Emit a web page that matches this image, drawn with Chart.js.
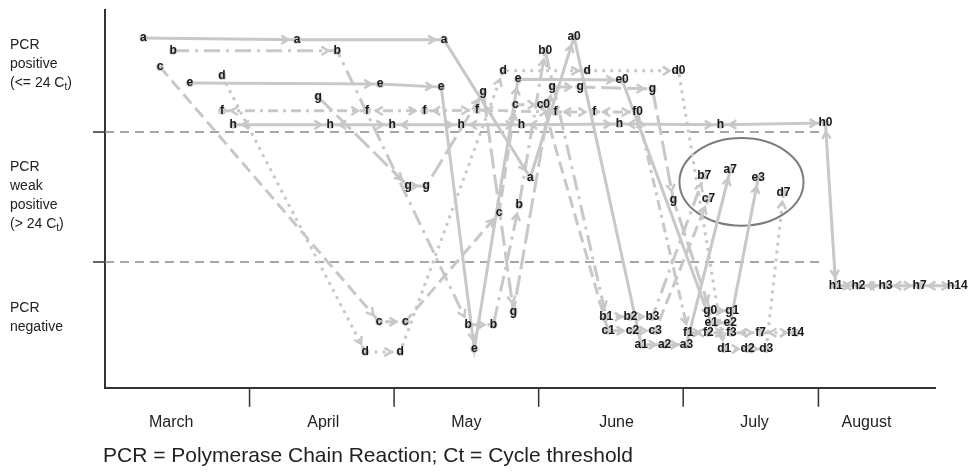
<!DOCTYPE html>
<html>
<head>
<meta charset="utf-8">
<script src="https://cdn.jsdelivr.net/npm/chart.js@4.4.0/dist/chart.umd.min.js"></script>
<style>
html, body { margin: 0; padding: 0; background: #fff; }
</style>
</head>
<body>
<canvas id="myChart" width="968" height="472"></canvas>
<script>
// x = days from 1 March, y = position inside the three PCR bands (0-100)
var mesi = ['March', 'April', 'May', 'June', 'July', 'August'];
var mesiPos = [14.2, 46.8, 77.5, 109.7, 139.3, 163.3];
var confiniMesi = [31, 62, 93, 124, 153];
var soglie = [33.3, 67.7];
var fineSoglie = 153.5;

var fasce = [
    ['PCR', 'positive', '(<= 24 Ct)'],
    ['PCR', 'weak', 'positive', '(> 24 Ct)'],
    ['PCR', 'negative']
];
var fasceCentro = [85.7, 50.8, 18.7];

// circled group
var cerchioX = 136.5, cerchioY = 54.5, cerchioRx = 13.3, cerchioRy = 11.6;

var aX = [8.2, 41.2, 72.7, 91.2, 100.6, 115.0, 120.0, 124.7, 134.1];
var aY = [92.6, 92.1, 92.1, 55.6, 92.9, 11.4, 11.4, 11.4, 57.7];
var aL = ['a', 'a', 'a', 'a', 'a0', 'a1', 'a2', 'a3', 'a7'];

var bX = [14.6, 49.8, 77.9, 83.3, 88.8, 94.4, 107.5, 112.7, 117.4, 128.5];
var bY = [89.2, 89.2, 16.7, 16.7, 48.4, 89.2, 18.8, 18.8, 18.8, 56.1];
var bL = ['b', 'b', 'b', 'b', 'b', 'b0', 'b1', 'b2', 'b3', 'b7'];

var cX = [11.8, 58.8, 64.4, 84.5, 88.0, 94.0, 107.9, 113.1, 118.0, 129.4];
var cY = [84.9, 17.5, 17.5, 46.3, 74.9, 74.9, 15.1, 15.1, 15.1, 50.0];
var cL = ['c', 'c', 'c', 'c', 'c', 'c0', 'c1', 'c2', 'c3', 'c7'];

var dX = [25.1, 55.8, 63.3, 85.4, 103.4, 123.0, 132.8, 137.8, 141.8, 145.5];
var dY = [82.5, 9.5, 9.5, 83.9, 83.9, 83.9, 10.3, 10.3, 10.3, 51.6];
var dL = ['d', 'd', 'd', 'd', 'd', 'd0', 'd1', 'd2', 'd3', 'd7'];

var eX = [18.2, 59.0, 72.1, 79.2, 88.6, 110.9, 130.0, 134.1, 140.1];
var eY = [80.7, 80.4, 79.6, 10.3, 81.7, 81.5, 17.2, 17.2, 55.6];
var eL = ['e', 'e', 'e', 'e', 'e', 'e0', 'e1', 'e2', 'e3'];

var fX = [25.1, 56.2, 68.5, 79.8, 96.6, 104.9, 114.2, 125.1, 129.4, 134.3, 140.6, 148.1];
var fY = [73.3, 73.3, 73.3, 73.5, 73.0, 73.0, 73.0, 14.6, 14.6, 14.6, 14.6, 14.6];
var fL = ['f', 'f', 'f', 'f', 'f', 'f', 'f0', 'f1', 'f2', 'f3', 'f7', 'f14'];

var gX = [45.7, 65.0, 68.9, 81.1, 87.6, 95.9, 101.9, 117.4, 121.9, 129.8, 134.5];
var gY = [77.0, 53.4, 53.4, 78.3, 20.1, 79.6, 79.6, 79.1, 49.7, 20.4, 20.4];
var gL = ['g', 'g', 'g', 'g', 'g', 'g', 'g', 'g', 'g', 'g0', 'g1'];

var hX = [27.5, 48.3, 61.6, 76.4, 89.3, 110.3, 132.0, 154.5, 156.7, 161.6, 167.4, 174.7, 182.8];
var hY = [69.6, 69.6, 69.6, 69.6, 69.6, 69.8, 69.6, 70.1, 27.0, 27.0, 27.0, 27.0, 27.0];
var hL = ['h', 'h', 'h', 'h', 'h', 'h', 'h', 'h0', 'h1', 'h2', 'h3', 'h7', 'h14'];

var grigio = '#c8c8c8';

function serie(xs, ys, nomi, dash, doppia) {
    var punti = [];
    for (var i = 0; i < xs.length; i++) {
        punti.push({ x: xs[i], y: ys[i] });
    }
    return {
        data: punti,
        nomi: nomi,
        doppia: doppia,
        showLine: true,
        borderColor: grigio,
        borderWidth: 3,
        borderDash: dash,
        pointRadius: 4,
        pointBackgroundColor: '#cdcdcd',
        pointBorderWidth: 0,
        clip: false
    };
}

function freccia(ctx, x, y, ang) {
    var l = 8;
    ctx.beginPath();
    ctx.moveTo(x - l * Math.cos(ang - 0.55), y - l * Math.sin(ang - 0.55));
    ctx.lineTo(x, y);
    ctx.lineTo(x - l * Math.cos(ang + 0.55), y - l * Math.sin(ang + 0.55));
    ctx.stroke();
}

function scriviCt(ctx, testo, x, y) {
    var pezzi = testo.split('Ct');
    if (pezzi.length < 2) {
        ctx.fillText(testo, x, y);
        return;
    }
    var prima = pezzi[0] + 'C';
    ctx.fillText(prima, x, y);
    var w = ctx.measureText(prima).width;
    var font = ctx.font;
    ctx.font = '10px "Liberation Sans", Arial';
    ctx.fillText('t', x + w, y + 4);
    var wt = ctx.measureText('t').width;
    ctx.font = font;
    ctx.fillText(pezzi[1], x + w + wt, y);
}

var extra = {
    id: 'extra',
    beforeDatasetsDraw: function (chart) {
        var ctx = chart.ctx;
        var sx = chart.scales.x;
        var sy = chart.scales.y;
        var area = chart.chartArea;
        ctx.save();
        // band limits
        ctx.strokeStyle = '#8a8a8a';
        ctx.lineWidth = 1.5;
        ctx.setLineDash([9, 6]);
        for (var i = 0; i < soglie.length; i++) {
            var py = sy.getPixelForValue(soglie[i]);
            ctx.beginPath();
            ctx.moveTo(area.left, py);
            ctx.lineTo(sx.getPixelForValue(fineSoglie), py);
            ctx.stroke();
        }
        ctx.setLineDash([]);
        ctx.strokeStyle = '#333';
        for (var j = 0; j < soglie.length; j++) {
            var py2 = sy.getPixelForValue(soglie[j]);
            ctx.beginPath();
            ctx.moveTo(area.left - 12, py2);
            ctx.lineTo(area.left, py2);
            ctx.stroke();
        }
        for (var k = 0; k < confiniMesi.length; k++) {
            var px = sx.getPixelForValue(confiniMesi[k]);
            ctx.beginPath();
            ctx.moveTo(px, area.bottom);
            ctx.lineTo(px, area.bottom + 19);
            ctx.stroke();
        }
        // circled group
        var cx = sx.getPixelForValue(cerchioX);
        var cy = sy.getPixelForValue(cerchioY);
        var rx = sx.getPixelForValue(cerchioX + cerchioRx) - cx;
        var ry = cy - sy.getPixelForValue(cerchioY + cerchioRy);
        ctx.strokeStyle = '#7c7c7c';
        ctx.lineWidth = 2;
        ctx.beginPath();
        ctx.ellipse(cx, cy, rx, ry, 0, 0, Math.PI * 2);
        ctx.stroke();
        ctx.restore();
    },
    afterDatasetsDraw: function (chart) {
        var ctx = chart.ctx;
        ctx.save();
        ctx.strokeStyle = grigio;
        ctx.lineWidth = 2.5;
        ctx.setLineDash([]);
        chart.data.datasets.forEach(function (ds, i) {
            var pts = chart.getDatasetMeta(i).data;
            for (var j = 1; j < pts.length; j++) {
                var p = pts[j - 1], q = pts[j];
                var ang = Math.atan2(q.y - p.y, q.x - p.x);
                var d = 9;
                freccia(ctx, q.x - d * Math.cos(ang), q.y - d * Math.sin(ang), ang);
                if (ds.doppia) {
                    freccia(ctx, p.x + d * Math.cos(ang), p.y + d * Math.sin(ang), ang + Math.PI);
                }
            }
        });
        ctx.fillStyle = '#1a1a1a';
        ctx.font = 'bold 12px "Liberation Sans", Arial';
        ctx.textAlign = 'center';
        ctx.textBaseline = 'middle';
        chart.data.datasets.forEach(function (ds, i) {
            var pts = chart.getDatasetMeta(i).data;
            for (var j = 0; j < pts.length; j++) {
                ctx.fillText(ds.nomi[j], pts[j].x, pts[j].y);
            }
        });
        ctx.restore();
    },
    afterDraw: function (chart) {
        var ctx = chart.ctx;
        var sy = chart.scales.y;
        ctx.save();
        ctx.fillStyle = '#222';
        ctx.font = '14px "Liberation Sans", Arial';
        ctx.textAlign = 'left';
        ctx.textBaseline = 'middle';
        for (var i = 0; i < fasce.length; i++) {
            var righe = fasce[i];
            var centro = sy.getPixelForValue(fasceCentro[i]);
            var y0 = centro - (righe.length - 1) * 19 / 2;
            for (var r = 0; r < righe.length; r++) {
                scriviCt(ctx, righe[r], 10, y0 + r * 19);
            }
        }
        ctx.font = '21px "Liberation Sans", Arial';
        ctx.fillText('PCR = Polymerase Chain Reaction; Ct = Cycle threshold', 103, 456);
        ctx.restore();
    }
};

var ctx = document.getElementById('myChart').getContext('2d');

var myChart = new Chart(ctx, {
    type: 'scatter',
    data: {
        datasets: [
            serie(aX, aY, aL, [], false),
            serie(bX, bY, bL, [16, 6, 3, 6], false),
            serie(cX, cY, cL, [12, 6], false),
            serie(dX, dY, dL, [3, 5], false),
            serie(eX, eY, eL, [], false),
            serie(fX, fY, fL, [10, 5, 3, 5], true),
            serie(gX, gY, gL, [20, 6], false),
            serie(hX, hY, hL, [], true)
        ]
    },
    options: {
        responsive: false,
        animation: false,
        layout: { padding: { left: 105, right: 33, top: 10, bottom: 15 } },
        plugins: {
            legend: { display: false },
            tooltip: { enabled: false }
        },
        scales: {
            x: {
                type: 'linear',
                min: 0,
                max: 178,
                afterBuildTicks: function (scale) {
                    scale.ticks = mesiPos.map(function (v) { return { value: v }; });
                },
                ticks: {
                    autoSkip: false,
                    maxRotation: 0,
                    padding: 25,
                    color: '#222',
                    font: { family: '"Liberation Sans", Arial', size: 16 },
                    callback: function (v, i) { return mesi[i]; }
                },
                grid: { display: false, drawTicks: false },
                border: { display: true, color: '#333', width: 2 }
            },
            y: {
                min: 0,
                max: 100,
                ticks: { display: false },
                grid: { display: false, drawTicks: false },
                border: { display: true, color: '#333', width: 2 }
            }
        }
    },
    plugins: [extra]
});
</script>
</body>
</html>
